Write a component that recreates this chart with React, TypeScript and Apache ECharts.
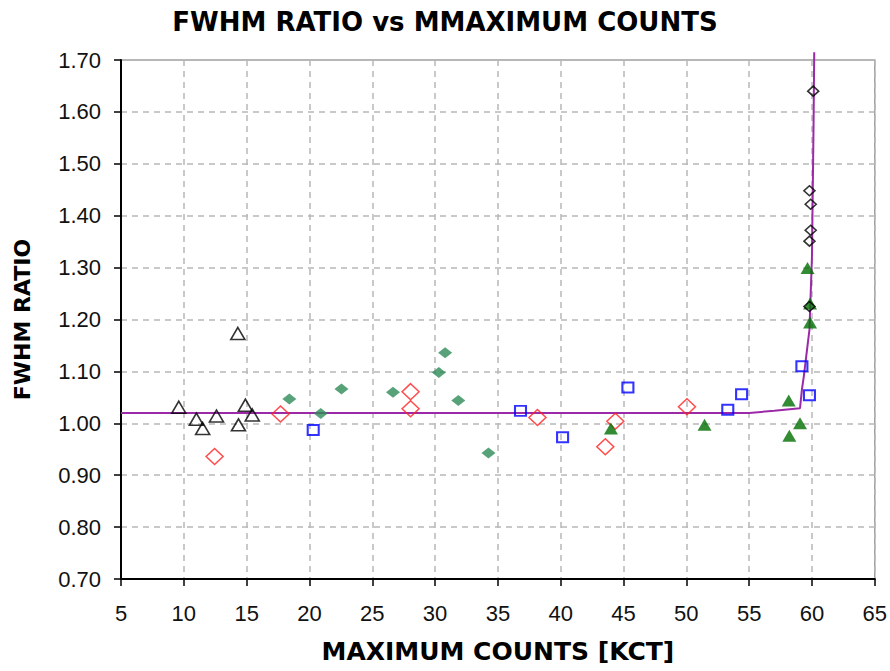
import React, { useEffect, useRef } from "react";
import * as echarts from "echarts";

const titleText = "FWHM RATIO vs MMAXIMUM COUNTS";
const xAxisName = "MAXIMUM COUNTS [KCT]";
const yAxisName = "FWHM RATIO";

const blackTriangles: number[][] = [
  [9.6, 1.031], [11.0, 1.008], [11.5, 0.99], [12.6, 1.014], [14.3, 1.173],
  [14.35, 0.997], [14.9, 1.035], [15.45, 1.016],
];
const redDiamonds: number[][] = [
  [12.45, 0.936], [17.7, 1.018], [28.05, 1.061], [28.05, 1.028], [38.15, 1.011],
  [43.55, 0.955], [44.35, 1.004], [50.05, 1.032],
];
const greenDiamonds: number[][] = [
  [18.4, 1.047], [20.9, 1.019], [22.55, 1.066], [26.65, 1.06], [30.3, 1.098],
  [30.8, 1.136], [31.85, 1.044], [34.25, 0.943],
];
const blueSquares: number[][] = [
  [20.3, 0.987], [36.8, 1.024], [40.15, 0.973], [45.35, 1.069], [53.3, 1.026],
  [54.4, 1.056], [59.2, 1.11], [59.8, 1.054],
];
const greenTriangles: number[][] = [
  [44.0, 0.99], [51.45, 0.997], [58.15, 1.044], [58.2, 0.976], [59.05, 1.0],
  [59.65, 1.299], [59.85, 1.231], [59.85, 1.194],
];
const blackDiamonds: number[][] = [
  [60.1, 1.64], [59.8, 1.448], [59.9, 1.422], [59.9, 1.372], [59.8, 1.351],
  [59.8, 1.225],
];
const fitCurve: number[][] = [
  [5, 1.02], [55, 1.02], [57, 1.024], [59.05, 1.029], [59.2, 1.065],
  [59.35, 1.09], [59.65, 1.15], [59.8, 1.18], [60.0, 1.32], [60.13, 1.58],
  [60.18, 1.715],
];

export default function App() {
  const ref = useRef<HTMLDivElement>(null);
  useEffect(() => {
    document.body.style.margin = "0";
    if (!ref.current) return;
    const chart = echarts.init(ref.current, null, { renderer: "svg" });
    const labelFont = {
      fontFamily: "Liberation Sans, Arial, sans-serif",
      fontSize: 22,
      color: "#111",
    };
    const nameFont = {
      fontFamily: "DejaVu Sans, sans-serif",
      fontWeight: "bold" as const,
      color: "#000",
    };
    const split = {
      show: true,
      lineStyle: { color: "#b8b8b8", width: 1.5, type: [6, 5] as number[] },
    };
    chart.setOption({
      animation: false,
      backgroundColor: "#fff",
      title: {
        text: titleText,
        left: "center",
        top: 4,
        textStyle: { ...nameFont, fontSize: 26 },
      },
      grid: {
        left: 121,
        right: 12,
        top: 60,
        bottom: 92,
        show: true,
        borderColor: "#a0a0a0",
        borderWidth: 1.5,
        backgroundColor: "transparent",
      },
      xAxis: {
        type: "value",
        min: 5,
        max: 65,
        interval: 5,
        name: xAxisName,
        nameLocation: "middle",
        nameGap: 60,
        nameTextStyle: { ...nameFont, fontSize: 25 },
        axisLine: { show: true, onZero: false, lineStyle: { color: "#000", width: 2 } },
        axisTick: { show: true, length: 7, lineStyle: { color: "#000", width: 1.5 } },
        axisLabel: { ...labelFont, margin: 23 },
        splitLine: split,
      },
      yAxis: {
        type: "value",
        min: 0.7,
        max: 1.7,
        interval: 0.1,
        name: yAxisName,
        nameLocation: "middle",
        nameGap: 88,
        nameTextStyle: { ...nameFont, fontSize: 22 },
        axisLine: { show: true, onZero: false, lineStyle: { color: "#000", width: 2 } },
        axisTick: { show: true, length: 7, lineStyle: { color: "#000", width: 1.5 } },
        axisLabel: { ...labelFont, margin: 20, formatter: (v: number) => v.toFixed(2) },
        splitLine: split,
      },
      series: [
        {
          type: "line",
          data: fitCurve,
          showSymbol: false,
          symbol: "none",
          clip: false,
          lineStyle: { color: "#9c2aa8", width: 2 },
          z: 1,
        },
        {
          type: "scatter",
          data: blackTriangles,
          symbol: "triangle",
          symbolSize: [14, 12],
          itemStyle: { color: "transparent", borderColor: "#000", borderWidth: 1.6 },
          z: 3,
        },
        {
          type: "scatter",
          data: redDiamonds,
          symbol: "diamond",
          symbolSize: [17, 16],
          itemStyle: { color: "transparent", borderColor: "#ff2020", borderWidth: 1.5 },
          z: 3,
        },
        {
          type: "scatter",
          data: greenDiamonds,
          symbol: "diamond",
          symbolSize: [14, 11],
          itemStyle: { color: "#2e8b57" },
          z: 3,
        },
        {
          type: "scatter",
          data: blueSquares,
          symbol: "rect",
          symbolSize: [11, 10],
          itemStyle: { color: "transparent", borderColor: "#0000ff", borderWidth: 2 },
          z: 3,
        },
        {
          type: "scatter",
          data: greenTriangles,
          symbol: "triangle",
          symbolSize: [14, 12],
          itemStyle: { color: "#006f00" },
          z: 3,
        },
        {
          type: "scatter",
          data: blackDiamonds,
          symbol: "diamond",
          symbolSize: [11, 10],
          itemStyle: { color: "transparent", borderColor: "#000", borderWidth: 1.6 },
          z: 3,
        },
      ],
    });
    return () => chart.dispose();
  }, []);
  return <div ref={ref} style={{ width: 890, height: 671 }} />;
}
